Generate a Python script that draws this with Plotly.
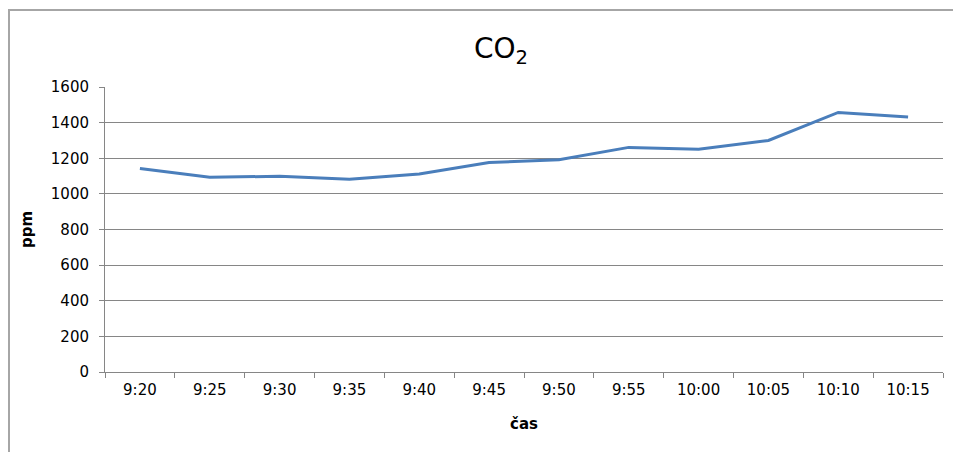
import plotly.graph_objects as go

# CO2 concentration measured every five minutes
times = ["9:20", "9:25", "9:30", "9:35", "9:40", "9:45",
         "9:50", "9:55", "10:00", "10:05", "10:10", "10:15"]
co2_ppm = [1142, 1093, 1099, 1082, 1112, 1176,
           1191, 1261, 1251, 1300, 1457, 1432]
y_ticks = [0, 200, 400, 600, 800, 1000, 1200, 1400, 1600]

FONT = "DejaVu Sans"
GRID = "#868686"

fig = go.Figure(
    go.Scatter(
        x=times,
        y=co2_ppm,
        mode="lines",
        line=dict(color="#4a7ebb", width=3),
        hoverinfo="x+y",
    )
)

# plot area: x 105..943, y 87..372 px in a 953x452 canvas
W, H = 953, 452
L, R, T, B = 105, 943, 87, 372
pw, ph = R - L, B - T

fig.update_layout(
    width=W,
    height=H,
    margin=dict(l=L, r=W - R, t=T, b=H - B),
    paper_bgcolor="white",
    plot_bgcolor="white",
    showlegend=False,
    font=dict(family=FONT, color="#000000", size=15),
    title=dict(
        text="CO<sub>2</sub>",
        x=501 / W,
        xanchor="center",
        y=1 - 48 / H,
        yanchor="middle",
        font=dict(family=FONT, size=28, color="#000000"),
    ),
    xaxis=dict(
        type="category",
        range=[-0.5, len(times) - 0.5],
        tickson="boundaries",
        ticks="outside",
        ticklen=5,
        tickcolor=GRID,
        showline=True,
        linecolor=GRID,
        linewidth=1,
        showgrid=False,
        tickfont=dict(size=15),
        ticklabelstandoff=4,
        title=dict(text="<b>čas</b>", font=dict(size=15), standoff=20),
        fixedrange=True,
    ),
    yaxis=dict(
        range=[0, 1600],
        tickvals=y_ticks,
        ticks="outside",
        ticklen=5,
        tickcolor=GRID,
        showline=True,
        linecolor=GRID,
        linewidth=1,
        showgrid=True,
        gridcolor=GRID,
        gridwidth=1,
        zeroline=False,
        tickfont=dict(size=15),
        ticklabelstandoff=7,
        title=dict(text="<b>ppm</b>", font=dict(size=15), standoff=14),
        fixedrange=True,
    ),
    shapes=[
        # chart frame (right and bottom edges run off the canvas)
        dict(
            type="rect",
            xref="paper",
            yref="paper",
            x0=(9 - L) / pw,
            x1=(W + 10 - L) / pw,
            y0=(B - (H + 10)) / ph,
            y1=(B - 10) / ph,
            line=dict(color="#a6a6a6", width=2),
            fillcolor="rgba(0,0,0,0)",
            layer="below",
        )
    ],
)

fig.write_html("out.html")
